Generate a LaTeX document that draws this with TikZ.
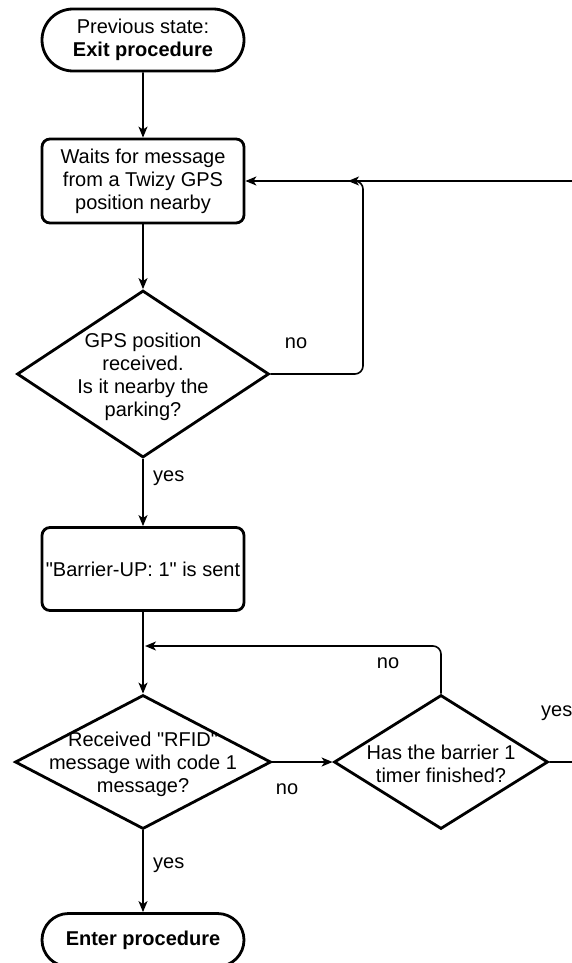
\documentclass[tikz,border=0pt]{standalone}
\usepackage{fontspec}
\setmainfont{Liberation Sans}
\usetikzlibrary{arrows.meta,shapes.geometric,shapes.misc}
% straight double quote, set as a glyph so no TeX mapping turns it curly
\newcommand{\dq}{\XeTeXglyph\XeTeXcharglyph"22\relax}
\begin{document}
\begin{tikzpicture}[x=1pt,y=-1pt,
  font=\fontsize{20}{23}\selectfont,
  term/.style={draw, line width=2.8pt, rounded rectangle, minimum width=202pt, align=center, inner sep=0},
  box/.style={draw, line width=2.8pt, rounded corners=8pt, minimum width=202pt, align=center, inner sep=0},
  dia/.style={draw, line width=2.8pt, diamond, inner sep=0},
  txt/.style={align=center, inner sep=0},
  conn/.style={line width=1.6pt, rounded corners=8pt},
  arr/.style={conn, -{Stealth[length=11pt,width=9pt,inset=3pt]}},
  lbl/.style={inner sep=0}]
\useasboundingbox (0,0) rectangle (571,963);

% main column
\node[term, minimum height=62pt] (start) at (143,40) {Previous state:\\\textbf{Exit procedure}};
\node[box, minimum height=84pt] (wait) at (143,181) {Waits for message\\from a Twizy GPS\\position nearby};
\node[dia, minimum width=252pt, minimum height=167pt] (gps) at (143,374) {};
\node[txt] (gpst) at (143,377) {GPS position\\received.\\Is it nearby the\\parking?};
\node[box, minimum height=83pt] (up) at (143,569) {\dq Barrier-UP: 1\dq{} is sent};
\node[dia, minimum width=256pt, minimum height=134pt] (rfid) at (143,762) {};
\node[txt] (rfidt) at (143,764) {Received \dq RFID\dq\\message with code 1\\message?};
\node[dia, minimum width=214pt, minimum height=134pt] (timer) at (441,762) {};
\node[txt] (timert) at (441,764) {Has the barrier 1\\timer finished?};
\node[term, minimum height=53pt] (enter) at (143,940) {\textbf{Enter procedure}};

% junction points
\coordinate (j1) at (363,181);
\coordinate (t1) at (348,181);
\coordinate (j2) at (145,646);

% connectors
\draw[arr] (start) -- (wait);
\draw[arr] (wait) -- (gps);
\draw[arr] (gps) -- (up);
\draw[arr] (up) -- (rfid);
\draw[arr] (rfid) -- (timer);
\draw[arr] (rfid) -- (enter);
\draw[arr] (gps.east) -| (j1) -- (wait.east);
\draw[arr] (timer.north) |- (j2);
\draw[arr] (timer.east) -- ++(40,0) |- (t1);

% connector labels
\node[lbl] (l1) at (296,343) {no};
\node[lbl, anchor=west] (l2) at (153,478) {yes};
\node[lbl] (l3) at (388,663) {no};
\node[lbl] (l4) at (287,789) {no};
\node[lbl, anchor=west] (l5) at (541,713) {yes};
\node[lbl, anchor=west] (l6) at (153,865) {yes};
\end{tikzpicture}
\end{document}
